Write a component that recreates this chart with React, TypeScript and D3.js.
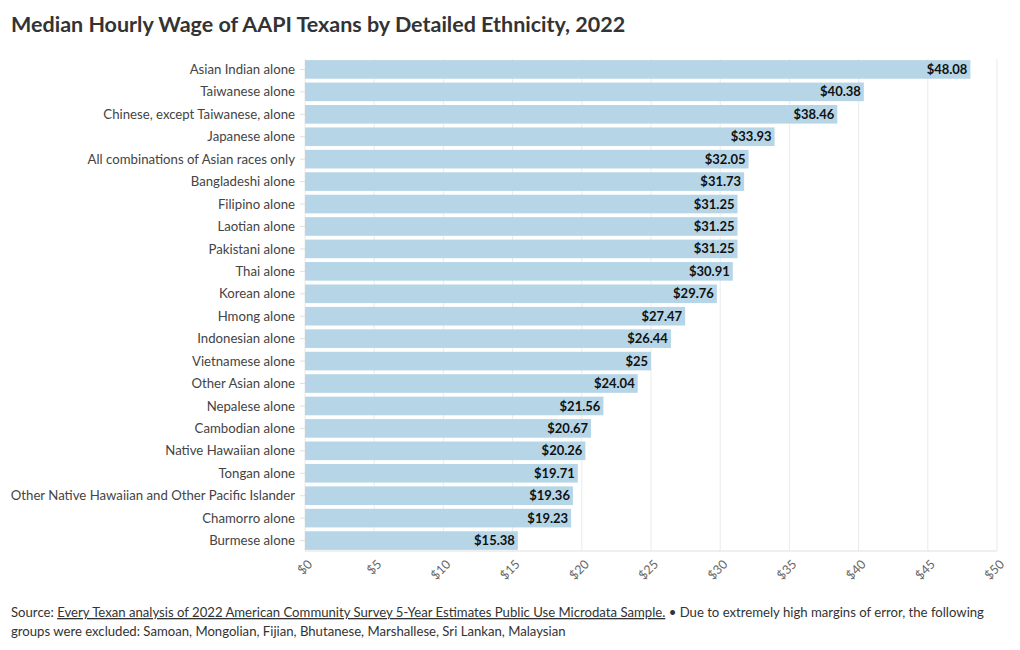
import { useEffect, useRef } from "react";
import * as d3 from "d3";

const categories = [
  "Asian Indian alone",
  "Taiwanese alone",
  "Chinese, except Taiwanese, alone",
  "Japanese alone",
  "All combinations of Asian races only",
  "Bangladeshi alone",
  "Filipino alone",
  "Laotian alone",
  "Pakistani alone",
  "Thai alone",
  "Korean alone",
  "Hmong alone",
  "Indonesian alone",
  "Vietnamese alone",
  "Other Asian alone",
  "Nepalese alone",
  "Cambodian alone",
  "Native Hawaiian alone",
  "Tongan alone",
  "Other Native Hawaiian and Other Pacific Islander",
  "Chamorro alone",
  "Burmese alone",
];
const wages = [48.08, 40.38, 38.46, 33.93, 32.05, 31.73, 31.25, 31.25, 31.25, 30.91, 29.76, 27.47, 26.44, 25, 24.04, 21.56, 20.67, 20.26, 19.71, 19.36, 19.23, 15.38];
const xTicks = [0, 5, 10, 15, 20, 25, 30, 35, 40, 45, 50];

const FONT = "Lato, 'Noto Sans', sans-serif";

export default function App() {
  const svgRef = useRef<SVGSVGElement | null>(null);

  useEffect(() => {
    const W = 1020, H = 650;
    const margin = { top: 59, right: 23, bottom: 99, left: 305 };
    const width = W - margin.left - margin.right;
    const height = H - margin.top - margin.bottom;

    const svg = d3.select(svgRef.current);
    svg.selectAll("*").remove();
    svg.attr("width", W).attr("height", H).style("font-family", FONT);

    svg.append("text").attr("x", 11).attr("y", 32)
      .attr("font-size", 21.5).attr("font-weight", 700).attr("fill", "#333")
      .text("Median Hourly Wage of AAPI Texans by Detailed Ethnicity, 2022");

    const g = svg.append("g").attr("transform", `translate(${margin.left},${margin.top})`);

    const x = d3.scaleLinear().domain([0, 50]).range([0, width]);
    const y = d3.scaleBand().domain(categories).range([0, height]).paddingInner(0.17).paddingOuter(0.05);

    // gridlines
    g.selectAll("line.grid").data(xTicks).join("line")
      .attr("x1", d => x(d)).attr("x2", d => x(d))
      .attr("y1", 0).attr("y2", height)
      .attr("stroke", "#ebebeb").attr("stroke-width", 1);

    // bottom axis line
    g.append("line").attr("x1", 0).attr("x2", width).attr("y1", height).attr("y2", height)
      .attr("stroke", "#e0e0e0");

    // y tick marks
    g.selectAll("line.ytick").data(categories).join("line")
      .attr("x1", -5).attr("x2", 0)
      .attr("y1", d => y(d)! + y.bandwidth() / 2).attr("y2", d => y(d)! + y.bandwidth() / 2)
      .attr("stroke", "#e0e0e0");

    g.selectAll("rect.bar").data(wages).join("rect")
      .attr("x", 0).attr("y", (d, i) => y(categories[i])!)
      .attr("width", d => x(d)).attr("height", y.bandwidth())
      .attr("fill", "#b6d6e7");

    g.selectAll("text.cat").data(categories).join("text")
      .attr("x", -10).attr("y", d => y(d)! + y.bandwidth() / 2)
      .attr("dy", "0.35em").attr("text-anchor", "end")
      .attr("font-size", 13.2).attr("fill", "#444").text(d => d);

    g.selectAll("text.val").data(wages).join("text")
      .attr("x", d => x(d) - 3).attr("y", (d, i) => y(categories[i])! + y.bandwidth() / 2)
      .attr("dy", "0.35em").attr("text-anchor", "end")
      .attr("font-size", 13).attr("font-weight", 700).attr("fill", "#111")
      .text(d => "$" + d3.format("~")(d));

    g.selectAll("text.xtick").data(xTicks).join("text")
      .attr("transform", d => `translate(${x(d) + 5},${height + 11}) rotate(-45)`)
      .attr("text-anchor", "end").attr("dy", "0.35em")
      .attr("font-size", 12.5).attr("fill", "#666")
      .text(d => "$" + d);

    const foot = svg.append("text").attr("x", 11).attr("y", 617)
      .attr("font-size", 13.15).attr("fill", "#333");
    foot.append("tspan").text("Source: ");
    foot.append("tspan").attr("text-decoration", "underline")
      .text("Every Texan analysis of 2022 American Community Survey 5-Year Estimates Public Use Microdata Sample.");
    foot.append("tspan").text(" \u2022 Due to extremely high margins of error, the following");
    svg.append("text").attr("x", 11).attr("y", 636)
      .attr("font-size", 13.15).attr("fill", "#333")
      .text("groups were excluded: Samoan, Mongolian, Fijian, Bhutanese, Marshallese, Sri Lankan, Malaysian");
  }, []);

  return <svg ref={svgRef} style={{ display: "block", position: "absolute", left: 0, top: 0 }}></svg>;
}
